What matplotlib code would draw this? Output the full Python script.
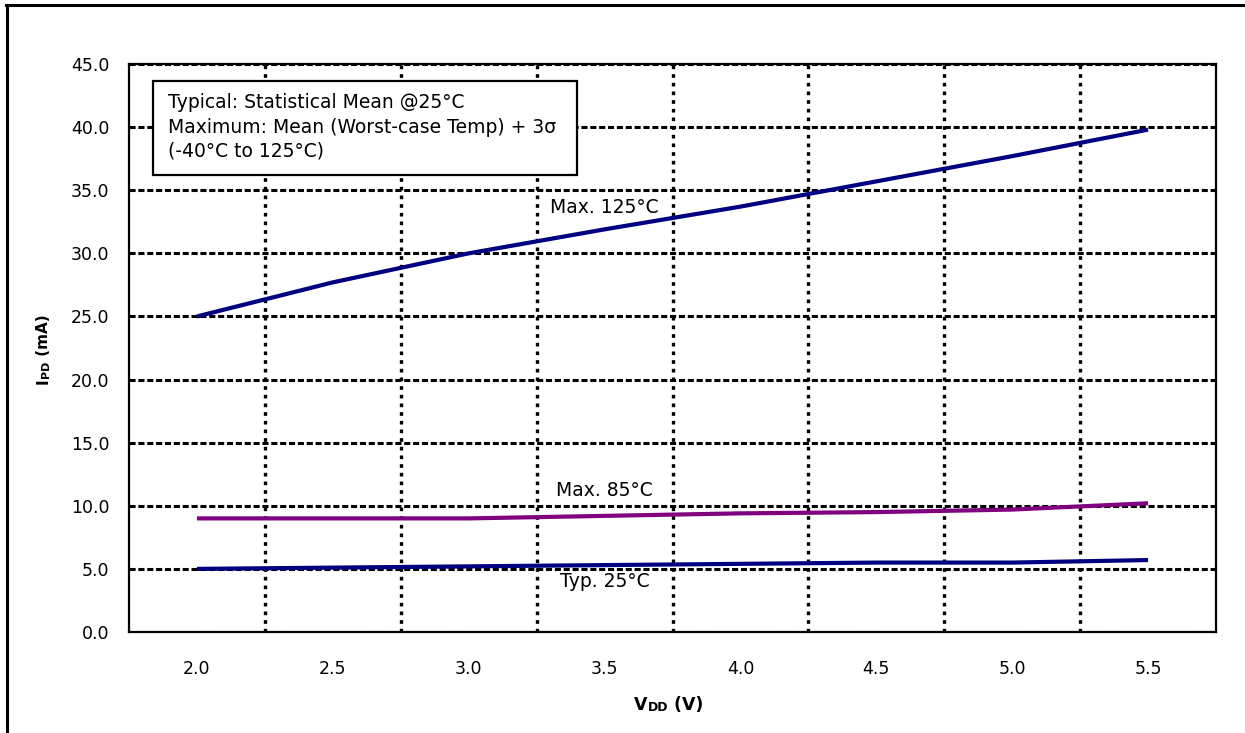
import matplotlib
matplotlib.use("Agg")
import matplotlib.pyplot as plt
from matplotlib.lines import Line2D
from matplotlib.patches import Rectangle

plt.rcParams['font.family'] = ['DejaVu Sans']

# ---- data ----
vdd_labels = ["2.0", "2.5", "3.0", "3.5", "4.0", "4.5", "5.0", "5.5"]
max_125 = [25.0, 27.7, 30.0, 31.9, 33.7, 35.7, 37.7, 39.8]
max_85 = [9.0, 9.0, 9.0, 9.2, 9.4, 9.5, 9.7, 10.2]
typ_25 = [5.0, 5.1, 5.2, 5.3, 5.4, 5.5, 5.5, 5.7]
y_ticks = [0, 5, 10, 15, 20, 25, 30, 35, 40, 45]

W, H = 1245, 733
fig = plt.figure(figsize=(W / 100, H / 100), dpi=100)
ax = fig.add_axes([129 / W, (H - 632) / H, 1087 / W, 568 / H])

x = list(range(len(vdd_labels)))
ax.plot(x, max_125, color="#000080", lw=3.0, zorder=5, solid_capstyle="butt")
ax.plot(x, max_85, color="#800080", lw=3.0, zorder=5, solid_capstyle="butt")
ax.plot(x, typ_25, color="#000080", lw=3.0, zorder=5, solid_capstyle="butt")

ax.set_xlim(-0.5, len(vdd_labels) - 0.5)
ax.set_ylim(0, 45)
ax.set_yticks(y_ticks)
ax.set_yticklabels([f"{v:.1f}" for v in y_ticks])
ax.set_xticks(x)
ax.set_xticklabels(vdd_labels)
ax.set_xticks([i + 0.5 for i in x[:-1]], minor=True)

ax.tick_params(axis="both", which="both", length=0, labelsize=12.5)
ax.tick_params(axis="x", pad=20)
ax.tick_params(axis="y", pad=14)

ax.set_axisbelow(True)
ax.grid(axis="y", which="major", color="black", lw=2.2, linestyle=(0, (2.0, 0.9)))
ax.grid(axis="x", which="minor", color="black", lw=2.4, linestyle=(0, (1.1, 1.5)))
ax.grid(axis="x", which="major", visible=False)

for s in ax.spines.values():
    s.set_linewidth(1.6)
    s.set_color("black")
    s.set_zorder(6)

# info box
ax.add_patch(Rectangle((0.022, 0.805), 0.39, 0.165, transform=ax.transAxes,
                       facecolor="white", edgecolor="black", lw=1.6, zorder=7))
box_lines = ["Typical: Statistical Mean @25°C",
             "Maximum: Mean (Worst-case Temp) + 3σ",
             "(-40°C to 125°C)"]
for t, yy in zip(box_lines, [0.933, 0.889, 0.846]):
    ax.text(0.0355, yy, t, transform=ax.transAxes, ha="left", va="center",
            fontsize=13.5, zorder=8)

# series labels
ax.text(3.0, 33.6, "Max. 125°C", ha="center", va="center", fontsize=13.5, zorder=8)
ax.text(3.0, 11.2, "Max. 85°C", ha="center", va="center", fontsize=13.5, zorder=8)
ax.text(3.0, 4.0, "Typ. 25°C", ha="center", va="center", fontsize=13.5, zorder=8)


def chain_text(pieces, start_xy, rotation=0):
    last = None
    for txt, size in pieces:
        if last is None:
            if rotation == 0:
                last = fig.text(start_xy[0], start_xy[1], txt, fontsize=size,
                                fontweight="bold", ha="left", va="bottom")
            else:
                last = fig.text(start_xy[0], start_xy[1], txt, fontsize=size,
                                fontweight="bold", ha="right", va="bottom",
                                rotation=90)
        else:
            if rotation == 0:
                last = ax.annotate(txt, xy=(1, 0), xycoords=last, fontsize=size,
                                   fontweight="bold", ha="left", va="bottom",
                                   annotation_clip=False)
            else:
                last = ax.annotate(txt, xy=(1, 1), xycoords=last, fontsize=size,
                                   fontweight="bold", ha="right", va="bottom",
                                   rotation=90, annotation_clip=False)


# x label "VDD (V)"
chain_text([("V", 12.5), ("DD", 9), (" (V)", 12.5)], (634 / W, 1 - 714 / H))
# y label "IPD (mA)"
chain_text([("I", 11), ("PD", 8), (" (mA)", 11)], (51 / W, 1 - 384 / H), rotation=90)

# figure frame lines (top and left)
fig.add_artist(Line2D([6 / W, 1.0], [1 - 5 / H, 1 - 5 / H], color="black", lw=2.2,
                      transform=fig.transFigure))
fig.add_artist(Line2D([7 / W, 7 / W], [0.0, 1 - 5 / H], color="black", lw=2.2,
                      transform=fig.transFigure))

fig.savefig("out.png", dpi=100)
